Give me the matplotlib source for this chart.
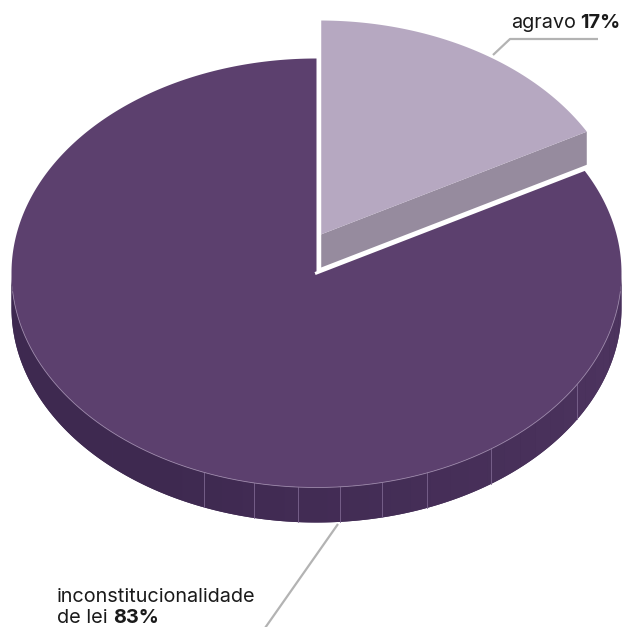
import numpy as np
import matplotlib
matplotlib.use("Agg")
import matplotlib.pyplot as plt
from matplotlib.patches import Polygon

# --- data ---
categories = ["inconstitucionalidade\nde lei", "agravo"]
values = [83, 17]
pct_labels = ["83%", "17%"]

# --- colours ---
top_colors = ["#5c406e", "#b6a8c1"]
side_colors = ["#432d57", "#968b9e"]
side_dark = np.array([62, 41, 80]) / 255
side_light = np.array([76, 51, 94]) / 255

W, H = 622, 627
fig = plt.figure(figsize=(W / 100, H / 100), dpi=100)
ax = fig.add_axes([0, 0, 1, 1])
ax.set_xlim(0, W)
ax.set_ylim(H, 0)
ax.axis("off")

# ellipse geometry of the pie (pixels)
cx, cy = 316.5, 273.0
rx, ry = 305.0, 214.5
depth = 35.0
explode = (3.0, -38.0)


def pt(t, dx=0.0, dy=0.0, dz=0.0):
    r = np.radians(t)
    return cx + dx + rx * np.cos(r), cy + dy - ry * np.sin(r) + dz


def arc(t0, t1, n=200, dx=0.0, dy=0.0, dz=0.0):
    ts = np.linspace(t0, t1, n)
    r = np.radians(ts)
    return np.column_stack([cx + dx + rx * np.cos(r), cy + dy - ry * np.sin(r) + dz])


# angles (degrees, counter-clockwise from +x); small slice runs clockwise from the top
total = sum(values)
span_small = 360.0 * values[1] / total
t_top = 90.0
t_cut = t_top - span_small          # boundary between the two slices

# leader lines (drawn under the pie)
ax.plot([493, 510, 598], [55, 39, 39], color="#b3b3b3", lw=1.6, zorder=1,
        solid_capstyle="butt")
ax.plot([338, 265], [524, 628], color="#b3b3b3", lw=1.6, zorder=1,
        solid_capstyle="butt")

# --- big slice: curved front side, shaded dark on the left to lighter on the right ---
base = np.vstack([arc(180, 360, 300), arc(360, 180, 300, dz=depth)])
ax.add_patch(Polygon(base, closed=True, fc=side_colors[0], ec="none", zorder=2))
shade_steps = np.linspace(180, 360, 46)
for a0, a1 in zip(shade_steps[:-1], shade_steps[1:]):
    topc = arc(a0, a1, 12)
    botc = arc(a1, a0, 12, dz=depth)
    f = np.clip((0.5 * (a0 + a1) - 240) / 100, 0, 1)
    col = side_dark * (1 - f) + side_light * f
    ax.add_patch(Polygon(np.vstack([topc, botc]), closed=True, fc=col, ec="none",
                         zorder=2.1))
facet_lines = [248.3, 258.2, 266.5, 274.4, 282.4, 291.2, 304.9, 328.7]
for a in facet_lines:
    x0, y0 = pt(a)
    ax.plot([x0, x0], [y0, y0 + depth], color="#7d6690", lw=0.6, zorder=3)

# big slice top face
big_top = np.vstack([[cx, cy], arc(t_cut, t_top - 360, 400), [cx, cy]])
ax.add_patch(Polygon(big_top, closed=True, fc=top_colors[0], ec="none", zorder=4))
# light rim along the front edge
rim = arc(185, 355, 300)
ax.plot(rim[:, 0], rim[:, 1], color="#9a86a8", lw=0.6, zorder=5)

# --- small slice (pulled out) ---
dx, dy = explode
ax_, ay_ = cx + dx, cy + dy
ex, ey = pt(t_cut, dx, dy)
# flat cut face facing the viewer
cut_face = np.array([[ax_, ay_], [ex, ey], [ex, ey + depth], [ax_, ay_ + depth]])
ax.add_patch(Polygon(cut_face, closed=True, fc=side_colors[1], ec="none", zorder=6))
small_top = np.vstack([[ax_, ay_], arc(t_cut, t_top, 200, dx, dy), [ax_, ay_]])
ax.add_patch(Polygon(small_top, closed=True, fc=top_colors[1], ec="none", zorder=7))
# white outline of the pulled-out slice
ax.plot([ax_, ax_, ex + 1.5], [pt(t_top, dx, dy)[1], ay_ + depth, ey + depth - 0.6],
        color="white", lw=2.5, zorder=8, solid_joinstyle="miter")
bx, by = pt(t_cut)
ax.plot([cx, bx], [cy, by], color="white", lw=2.2, zorder=8)

# --- labels ---
font = ["Inter", "DejaVu Sans"]
fs = 14.3
txt_col = "#1a1a1a"
ax.text(620, 28, pct_labels[1], ha="right", va="baseline", fontsize=fs,
        fontweight="bold", family=font, color=txt_col, zorder=9)
t1 = ax.text(0, 0, pct_labels[1], fontsize=fs, fontweight="bold", family=font)
fig.canvas.draw()
w_pct = t1.get_window_extent().width
t1.remove()
ax.text(620 - w_pct - 4, 28, categories[1], ha="right", va="baseline", fontsize=fs,
        family=font, color=txt_col, zorder=9)

lines = categories[0].split("\n")
ax.text(57, 602, lines[0], ha="left", va="baseline", fontsize=fs, family=font,
        color=txt_col, zorder=9)
t2 = ax.text(57, 623, lines[1] + " ", ha="left", va="baseline", fontsize=fs,
             family=font, color=txt_col, zorder=9)
fig.canvas.draw()
bb = t2.get_window_extent()
ax.text(57 + bb.width, 623, pct_labels[0], ha="left", va="baseline", fontsize=fs,
        fontweight="bold", family=font, color=txt_col, zorder=9)

fig.savefig("out.png", dpi=100, facecolor="white")
